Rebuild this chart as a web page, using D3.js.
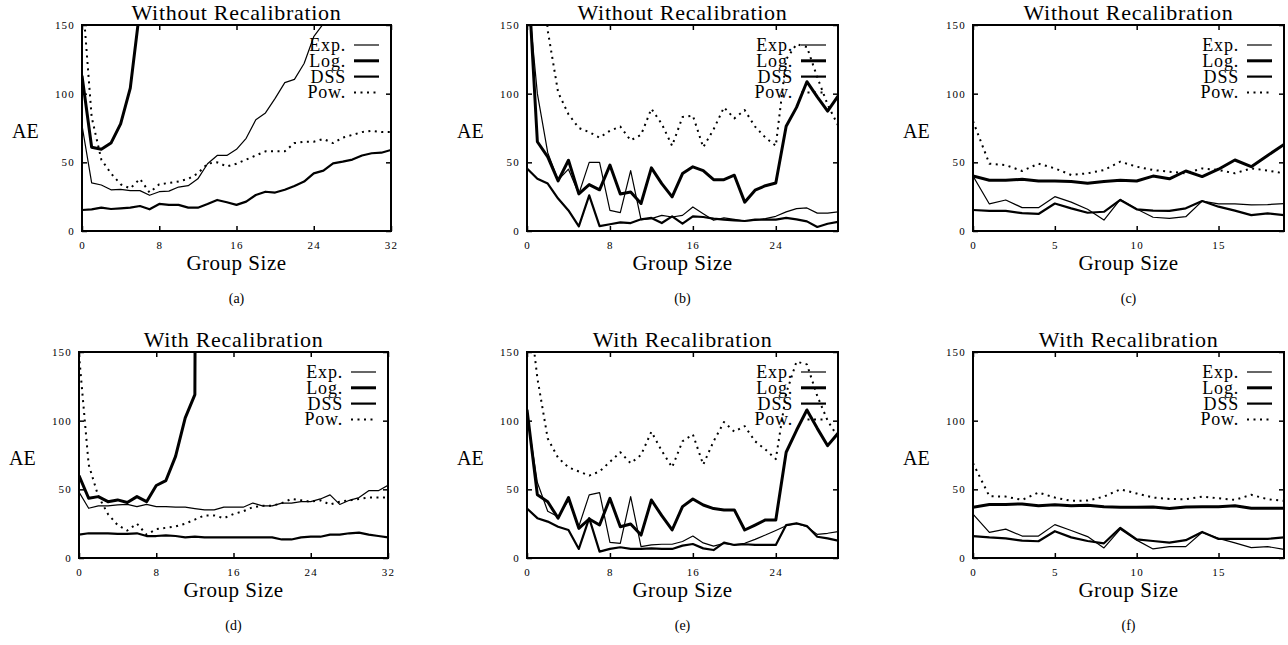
<!DOCTYPE html>
<html>
<head>
<meta charset="utf-8">
<script src="https://cdn.jsdelivr.net/npm/d3@7"></script>
<style>
  body { margin: 0; background: #fff; }
  text { font-family: "Liberation Serif", "DejaVu Serif", serif; fill: #000; font-weight: normal; }
</style>
</head>
<body>
<script>
// Values (AE against group size); x of each value is its index
const seriesNames = ["Exp.", "Log.", "DSS", "Pow."];
const yTicks = [0, 50, 100, 150];
const xTicks32 = [0, 8, 16, 24, 32];
const xTicks30 = [0, 8, 16, 24];
const xTicks19 = [0, 5, 10, 15];

// (a) Without Recalibration, 0..32
const expA = [77, 35, 33.5, 30, 30.3, 29.4, 29.4, 26, 28.6, 29, 32, 33, 38, 49, 55, 55, 59.5, 67.5, 81, 86, 96.6, 108, 110.4, 122, 141.5, 151, 165];
const logA = [113, 61, 59.5, 64, 78, 104, 162, 260];
const dssA = [15.3, 15.8, 17, 16, 16.5, 17, 18.2, 15.8, 19.7, 19, 19, 17, 17, 19.7, 22.6, 20.9, 19, 21.4, 26.2, 28.6, 28, 30, 32.8, 36, 42, 44, 49.3, 50.5, 52, 55, 56.6, 57, 59];
const powA = [175, 83, 52, 42, 34, 31, 38, 28, 34, 35, 36, 38, 42, 49, 50, 47, 49, 52, 55, 58, 58, 58, 64, 65, 65, 67, 64, 68, 70, 72, 73, 72, 72];

// (b) Without Recalibration, 0..30
const expB = [180, 100, 57, 37, 45, 27, 50, 50, 15, 13.4, 44, 8.3, 9, 11.4, 10.2, 11.4, 17.5, 12.6, 7.8, 9.5, 8.5, 7.3, 7.8, 9, 10.7, 13.9, 16.3, 16.8, 13, 13, 13.9];
const logB = [200, 65, 54, 36.5, 51.5, 27, 33.8, 30, 48, 27, 28.4, 20, 46, 34.5, 24.8, 41.8, 46.7, 44, 37.4, 37.4, 40.6, 21, 29.7, 33, 35, 76.3, 90, 108.7, 97.7, 87.3, 98.2];
const dssB = [45.5, 38, 34.5, 23.6, 15, 3.4, 26, 3.6, 4.9, 6.3, 5.8, 8.5, 9.5, 5.8, 10.7, 5.3, 10.7, 10.2, 9, 8.3, 7.8, 7.3, 8.3, 8.3, 8.3, 9.5, 8.5, 7, 2.9, 5.3, 6.6];
const powB = [500, 260, 146, 101, 85, 75, 72, 68, 73, 76, 66, 70, 89, 78, 62, 83, 84, 61, 74, 90, 82, 88, 76, 68, 62, 125, 136, 134, 112, 92, 77];

// (c) Without Recalibration, 0..19
const expC = [40, 19.7, 22.6, 17, 17, 25, 21, 15.8, 8, 23, 16, 10, 9.2, 10.4, 21.8, 19.7, 19.7, 19, 19.2, 20];
const logC = [40, 37, 37, 37.6, 36.4, 36.4, 36, 34.7, 36, 37, 36.4, 40, 38, 43.7, 39.6, 45, 51.7, 46.8, 55, 63];
const dssC = [15.3, 14.6, 14.6, 13, 12.4, 20, 16.5, 13.3, 14, 22.6, 15.8, 14.8, 14.6, 16.5, 21.8, 17.7, 14.8, 11.6, 12.9, 11.6];
const powC = [80, 49, 48, 43.7, 49, 45.6, 40.8, 42, 44.4, 50.5, 46.8, 44.4, 43.2, 42, 45.6, 44.4, 42, 45.6, 44, 42];

// (d) With Recalibration, 0..32
const expD = [48, 36.2, 38, 38, 38.7, 39, 37.4, 39, 37.4, 37.4, 37, 37, 36, 35, 35, 37, 37, 37, 40, 38, 38, 40, 40, 41, 41, 43, 46, 39, 42, 44, 49, 49, 53];
const logD = [60, 43.5, 44.7, 41, 42.3, 40.4, 44.7, 41, 52.8, 56.4, 74, 102, 119, 2000];
const dssD = [17, 18, 18, 18, 17.5, 17.5, 18, 16, 16, 16.5, 16, 15, 15.5, 15, 15, 15, 15, 15, 15, 15, 15, 13.5, 13.5, 15, 15.5, 15.5, 17, 17, 18, 18.5, 17, 16, 15];
const powD = [148, 68, 45, 32, 24, 20, 25, 17, 21, 22, 23, 25, 28, 31, 31, 29, 32, 34, 37, 38, 38, 40, 43, 42, 41, 42, 39, 41, 42, 43, 44, 44, 44];

// (e) With Recalibration, 0..30
const expE = [105, 55, 34, 30, 42, 23, 46, 47.6, 11.4, 10.7, 44.7, 8.3, 9.5, 10, 10, 12, 16, 11, 8.7, 10.7, 9.5, 10.7, 13.6, 16.7, 20, 23.5, 25.2, 22.8, 17.2, 18, 19.2];
const logE = [108, 46, 41, 29, 44, 21.6, 28.4, 24, 43.4, 22.8, 24.8, 16.7, 42.2, 30.8, 20.4, 37.4, 43, 38.6, 36, 35, 35, 20.4, 24, 27.7, 27.7, 77, 93, 107.8, 94.4, 81.8, 90.8];
const dssE = [36, 29, 26.5, 22.8, 20.4, 6.6, 29, 4.6, 6.6, 7.8, 6.6, 6.6, 7, 6.6, 6.6, 9, 10.2, 7, 5.8, 11.2, 9.5, 10, 9.5, 9.5, 9.5, 24, 25.2, 23.3, 15.5, 14.3, 12.6];
const powE = [195, 131, 87, 73, 66, 63, 60, 63, 70, 77, 69, 75, 92, 78, 66, 85, 90, 68, 85, 99, 92, 96, 85, 79, 72, 120, 143, 141, 118, 100, 88];

// (f) With Recalibration, 0..19
const expF = [32, 18.7, 21, 16, 16, 24.3, 20, 15.6, 7.3, 21, 13, 6.6, 8.3, 8.3, 18.7, 14.3, 11, 7.5, 8.3, 6.3];
const logF = [37, 39, 39, 39.4, 38, 38.7, 38, 38.4, 37.4, 37, 37, 37.2, 36, 37.2, 37.4, 37.4, 38, 36.2, 36.2, 36.2];
const dssF = [16, 15, 14.3, 12.6, 12.2, 19.5, 15, 12.4, 10.7, 21.9, 13.6, 12.4, 11.2, 13, 19, 13.9, 13.9, 13.9, 13.9, 15];
const powF = [69, 45, 44.7, 42.3, 47.7, 44, 41.6, 41.8, 44.7, 50, 47, 44, 43, 42.8, 44.7, 43.5, 42.3, 46, 42.8, 41.6];

// layout of the six panels
const panels = [
    { tag: "(a)", title: "Without Recalibration", left: 82, right: 391, top: 25, bottom: 231, xMax: 32, xTicks: xTicks32, data: [expA, logA, dssA, powA] },
    { tag: "(b)", title: "Without Recalibration", left: 527, right: 838, top: 25, bottom: 231, xMax: 30, xTicks: xTicks30, data: [expB, logB, dssB, powB] },
    { tag: "(c)", title: "Without Recalibration", left: 973, right: 1284, top: 25, bottom: 231, xMax: 19, xTicks: xTicks19, data: [expC, logC, dssC, powC] },
    { tag: "(d)", title: "With Recalibration", left: 79, right: 388, top: 352, bottom: 558, xMax: 32, xTicks: xTicks32, data: [expD, logD, dssD, powD] },
    { tag: "(e)", title: "With Recalibration", left: 527, right: 838, top: 352, bottom: 558, xMax: 30, xTicks: xTicks30, data: [expE, logE, dssE, powE] },
    { tag: "(f)", title: "With Recalibration", left: 973, right: 1284, top: 352, bottom: 558, xMax: 19, xTicks: xTicks19, data: [expF, logF, dssF, powF] }
];

// line styles: Exp thin, Log thick, DSS medium, Pow dotted
const styles = [
    { width: 1.2, dash: null },
    { width: 3, dash: null },
    { width: 2.2, dash: null },
    { width: 2, dash: "2,4.5" }
];

var svg = d3.select("body").append("svg")
    .attr("width", 1288)
    .attr("height", 645);

panels.forEach(function (p, k) {
    var x = d3.scaleLinear().domain([0, p.xMax]).range([p.left, p.right]);
    var y = d3.scaleLinear().domain([0, 150]).range([p.bottom, p.top]);
    var g = svg.append("g");

    g.append("clipPath").attr("id", "clip" + k)
        .append("rect")
        .attr("x", p.left).attr("y", p.top)
        .attr("width", p.right - p.left).attr("height", p.bottom - p.top);

    // curves
    var line = d3.line()
        .x(function (d, i) { return x(i); })
        .y(function (d) { return y(d); });

    var curves = g.append("g").attr("clip-path", "url(#clip" + k + ")");
    p.data.forEach(function (vals, s) {
        curves.append("path")
            .datum(vals)
            .attr("d", line)
            .attr("fill", "none")
            .attr("stroke", "#000")
            .attr("stroke-width", styles[s].width)
            .attr("stroke-linejoin", "round")
            .attr("stroke-dasharray", styles[s].dash);
    });

    // axes, ticks pointing inward on all sides
    g.append("g").attr("transform", "translate(0," + p.bottom + ")")
        .call(d3.axisBottom(x).tickValues(p.xTicks).tickSize(-5).tickPadding(10));
    g.append("g").attr("transform", "translate(0," + p.top + ")")
        .call(d3.axisTop(x).tickValues(p.xTicks).tickSize(-5).tickFormat(""));
    g.append("g").attr("transform", "translate(" + p.left + ",0)")
        .call(d3.axisLeft(y).tickValues(yTicks).tickSize(-5).tickPadding(7));
    g.append("g").attr("transform", "translate(" + p.right + ",0)")
        .call(d3.axisRight(y).tickValues(yTicks).tickSize(-5).tickFormat(""));

    g.selectAll(".domain").remove();
    g.selectAll(".tick line").attr("stroke", "#000").attr("stroke-width", 1.5);
    g.selectAll(".tick text")
        .attr("font-size", "11px")
        .attr("letter-spacing", "1.2px");

    // frame
    g.append("rect")
        .attr("x", p.left).attr("y", p.top)
        .attr("width", p.right - p.left).attr("height", p.bottom - p.top)
        .attr("fill", "none").attr("stroke", "#000").attr("stroke-width", 2);

    var cx = (p.left + p.right) / 2;

    g.append("text")
        .attr("x", cx).attr("y", p.top - 5)
        .attr("text-anchor", "middle")
        .attr("font-size", "22px")
        .attr("letter-spacing", "0.7px")
        .text(p.title);

    g.append("text")
        .attr("x", cx).attr("y", p.bottom + 39)
        .attr("text-anchor", "middle")
        .attr("font-size", "21px")
        .attr("letter-spacing", "0.5px")
        .text("Group Size");

    g.append("text")
        .attr("x", p.left - 70).attr("y", (p.top + p.bottom) / 2 + 10)
        .attr("font-size", "20px")
        .text("AE");

    g.append("text")
        .attr("x", cx).attr("y", p.bottom + 72)
        .attr("text-anchor", "middle")
        .attr("font-size", "14px")
        .text(p.tag);

    // legend
    seriesNames.forEach(function (name, s) {
        var ly = p.top + 20 + 15.8 * s;
        g.append("text")
            .attr("x", p.right - 45).attr("y", ly + 6)
            .attr("text-anchor", "end")
            .attr("font-size", "18px")
            .attr("letter-spacing", "0.8px")
            .text(name);
        g.append("line")
            .attr("x1", p.right - 37).attr("x2", p.right - 12)
            .attr("y1", ly).attr("y2", ly)
            .attr("stroke", "#000")
            .attr("stroke-width", styles[s].width)
            .attr("stroke-dasharray", styles[s].dash);
    });
});
</script>
</body>
</html>
